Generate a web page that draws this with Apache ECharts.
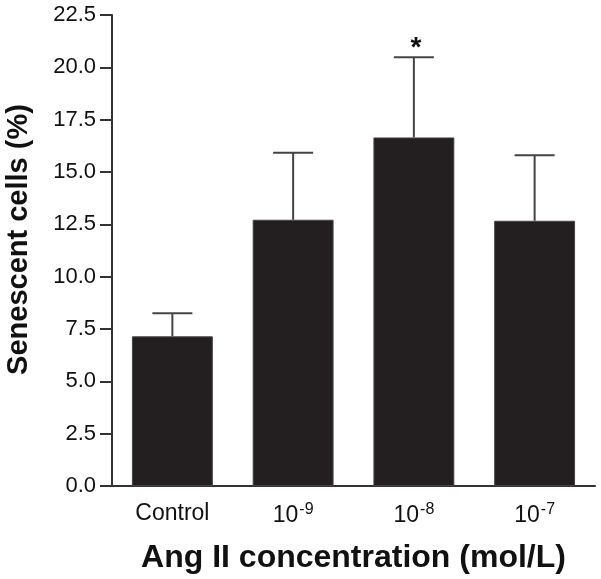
<!DOCTYPE html>
<html>
<head>
<meta charset="utf-8">
<script src="https://cdn.jsdelivr.net/npm/echarts@6/dist/echarts.min.js"></script>
<style>
  html, body { margin: 0; padding: 0; background: #fff; }
  #chart { width: 601px; height: 579px; }
</style>
</head>
<body>
<div id="chart"></div>
<script>
// data
const categories = ['Control', '1e-9', '1e-8', '1e-7'];
const means = [7.15, 12.72, 16.65, 12.67];
const sem = [1.1, 3.2, 3.83, 3.13];
const significant = [false, false, true, false];
const yTicks = { min: 0, max: 22.5, step: 2.5 };

const chart = echarts.init(document.getElementById('chart'));

const axisColor = '#333';
const barColor = '#231f20';
const font = 'Liberation Sans';

// category label with superscript exponent
const catLabel = (v) => {
  if (v === 'Control') return '{n|Control}';
  const exp = v.split('e')[1];
  return '{n|10}{s|' + exp + '}';
};

const option = {
  animation: false,
  grid: { left: 112, right: 6, top: 15, bottom: 93, containLabel: false, outerBoundsMode: 'none' },
  xAxis: {
    type: 'category',
    data: categories,
    name: 'Ang II concentration (mol/L)',
    nameLocation: 'middle',
    nameGap: 56,
    nameTextStyle: { fontFamily: font, fontWeight: 'bold', fontSize: 32, color: '#111' },
    axisLine: { lineStyle: { color: axisColor, width: 2 } },
    axisTick: { show: false },
    axisLabel: {
      margin: 16,
      formatter: catLabel,
      rich: {
        n: { fontFamily: font, fontSize: 23, color: '#111' },
        s: { fontFamily: font, fontSize: 16, color: '#111', verticalAlign: 'top', padding: [0, 0, 12, 1] }
      }
    }
  },
  yAxis: {
    type: 'value',
    min: yTicks.min,
    max: yTicks.max,
    interval: yTicks.step,
    name: 'Senescent cells (%)',
    nameLocation: 'middle',
    nameGap: 79,
    nameTextStyle: { fontFamily: font, fontWeight: 'bold', fontSize: 29, color: '#111', padding: [0, 0, 0, 22] },
    axisLine: { show: true, lineStyle: { color: axisColor, width: 2 } },
    axisTick: { show: true, length: 12, lineStyle: { color: axisColor, width: 2 } },
    splitLine: { show: false },
    axisLabel: {
      margin: 16,
      fontFamily: font,
      fontSize: 22,
      color: '#111',
      formatter: (v) => v.toFixed(1)
    }
  },
  series: [
    {
      type: 'bar',
      data: means,
      barWidth: '67%',
      itemStyle: { color: barColor, borderColor: '#444', borderWidth: 1 },
      z: 2
    },
    {
      type: 'custom',
      data: means.map((m, i) => [i, m, m + sem[i]]),
      z: 3,
      renderItem: (params, api) => {
        const base = api.coord([api.value(0), api.value(1)]);
        const top = api.coord([api.value(0), api.value(2)]);
        const half = 20;
        const style = { stroke: '#444', lineWidth: 2 };
        const children = [
          { type: 'line', shape: { x1: base[0], y1: base[1], x2: top[0], y2: top[1] }, style },
          { type: 'line', shape: { x1: top[0] - half, y1: top[1], x2: top[0] + half, y2: top[1] }, style }
        ];
        if (significant[params.dataIndex]) {
          children.push({
            type: 'text',
            style: {
              text: '*', x: top[0] + 2, y: top[1] + 5,
              fill: '#111', fontFamily: font, fontWeight: 'bold', fontSize: 28,
              align: 'center', verticalAlign: 'bottom'
            }
          });
        }
        return { type: 'group', children };
      }
    }
  ]
};

chart.setOption(option);
</script>
</body>
</html>
